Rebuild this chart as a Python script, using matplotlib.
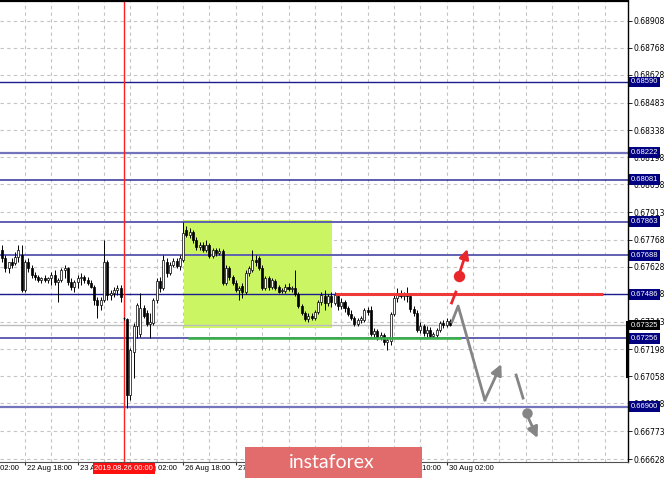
import numpy as np
import matplotlib
matplotlib.use("Agg")
import matplotlib.pyplot as plt
import matplotlib.transforms as mtransforms
from matplotlib.patches import Rectangle

# H1 bars, bar 0 = 22 Aug 18:00 (weekend hours skipped)
bar_idx = np.arange(-7, 130)

opens = [
    0.67716, 0.67674, 0.67622, 0.67653, 0.67648, 0.67679, 0.67690, 0.67507, 0.67653, 0.67622,
    0.67586, 0.67575, 0.67560, 0.67570, 0.67560, 0.67570, 0.67586, 0.67549, 0.67560, 0.67612,
    0.67622, 0.67549, 0.67523, 0.67549, 0.67570, 0.67575, 0.67560, 0.67544, 0.67523, 0.67455,
    0.67430, 0.67455, 0.67653, 0.67482, 0.67492, 0.67507, 0.67518, 0.67362, 0.67357, 0.66961,
    0.67185, 0.67320, 0.67279, 0.67414, 0.67388, 0.67331, 0.67336, 0.67455, 0.67554, 0.67518,
    0.67653, 0.67596, 0.67638, 0.67659, 0.67633, 0.67664, 0.67820, 0.67794, 0.67810, 0.67768,
    0.67731, 0.67742, 0.67716, 0.67742, 0.67684, 0.67716, 0.67700, 0.67710, 0.67544, 0.67622,
    0.67575, 0.67544, 0.67507, 0.67528, 0.67497, 0.67596, 0.67612, 0.67664, 0.67674, 0.67622,
    0.67518, 0.67570, 0.67523, 0.67554, 0.67523, 0.67502, 0.67502, 0.67523, 0.67513, 0.67518,
    0.67487, 0.67424, 0.67388, 0.67357, 0.67372, 0.67362, 0.67393, 0.67445, 0.67476, 0.67440,
    0.67476, 0.67440, 0.67476, 0.67424, 0.67445, 0.67414, 0.67383, 0.67362, 0.67331, 0.67351,
    0.67351, 0.67403, 0.67403, 0.67279, 0.67294, 0.67263, 0.67273, 0.67237, 0.67242, 0.67383,
    0.67466, 0.67487, 0.67476, 0.67487, 0.67476, 0.67409, 0.67388, 0.67299, 0.67320, 0.67284,
    0.67299, 0.67268, 0.67273, 0.67299, 0.67336, 0.67325, 0.67346,
]
highs = [
    0.67742, 0.67690, 0.67653, 0.67674, 0.67705, 0.67742, 0.67742, 0.67664, 0.67674, 0.67638,
    0.67601, 0.67586, 0.67575, 0.67586, 0.67575, 0.67601, 0.67612, 0.67570, 0.67622, 0.67638,
    0.67627, 0.67570, 0.67560, 0.67586, 0.67596, 0.67586, 0.67575, 0.67560, 0.67534, 0.67471,
    0.67471, 0.67768, 0.67664, 0.67507, 0.67523, 0.67534, 0.67534, 0.67367, 0.67362, 0.67206,
    0.67336, 0.67440, 0.67492, 0.67430, 0.67403, 0.67388, 0.67466, 0.67570, 0.67575, 0.67690,
    0.67674, 0.67653, 0.67674, 0.67674, 0.67690, 0.67863, 0.67841, 0.67830, 0.67820, 0.67783,
    0.67757, 0.67757, 0.67768, 0.67752, 0.67726, 0.67726, 0.67726, 0.67721, 0.67638, 0.67633,
    0.67586, 0.67560, 0.67528, 0.67544, 0.67612, 0.67633, 0.67716, 0.67690, 0.67684, 0.67638,
    0.67580, 0.67580, 0.67570, 0.67565, 0.67534, 0.67518, 0.67539, 0.67544, 0.67528, 0.67612,
    0.67497, 0.67435, 0.67398, 0.67388, 0.67388, 0.67403, 0.67455, 0.67497, 0.67507, 0.67487,
    0.67497, 0.67497, 0.67487, 0.67466, 0.67455, 0.67424, 0.67403, 0.67372, 0.67362, 0.67372,
    0.67414, 0.67419, 0.67424, 0.67310, 0.67305, 0.67289, 0.67284, 0.67258, 0.67393, 0.67482,
    0.67518, 0.67507, 0.67497, 0.67523, 0.67492, 0.67424, 0.67403, 0.67341, 0.67331, 0.67320,
    0.67315, 0.67289, 0.67310, 0.67346, 0.67351, 0.67362, 0.67357,
]
lows = [
    0.67653, 0.67601, 0.67596, 0.67622, 0.67638, 0.67653, 0.67497, 0.67497, 0.67601, 0.67570,
    0.67560, 0.67549, 0.67544, 0.67549, 0.67544, 0.67534, 0.67534, 0.67445, 0.67549, 0.67570,
    0.67534, 0.67507, 0.67497, 0.67518, 0.67534, 0.67544, 0.67534, 0.67518, 0.67430, 0.67362,
    0.67403, 0.67445, 0.67455, 0.67455, 0.67471, 0.67482, 0.67445, 0.67351, 0.66893, 0.66935,
    0.67049, 0.67258, 0.67263, 0.67362, 0.67320, 0.67258, 0.67325, 0.67440, 0.67497, 0.67507,
    0.67575, 0.67586, 0.67627, 0.67622, 0.67612, 0.67653, 0.67784, 0.67778, 0.67752, 0.67716,
    0.67716, 0.67705, 0.67705, 0.67674, 0.67674, 0.67684, 0.67690, 0.67534, 0.67534, 0.67560,
    0.67534, 0.67497, 0.67455, 0.67466, 0.67487, 0.67580, 0.67601, 0.67633, 0.67612, 0.67507,
    0.67507, 0.67507, 0.67513, 0.67507, 0.67492, 0.67492, 0.67492, 0.67502, 0.67497, 0.67476,
    0.67414, 0.67377, 0.67346, 0.67341, 0.67351, 0.67351, 0.67383, 0.67430, 0.67403, 0.67424,
    0.67419, 0.67430, 0.67403, 0.67409, 0.67393, 0.67372, 0.67351, 0.67320, 0.67320, 0.67336,
    0.67341, 0.67377, 0.67268, 0.67258, 0.67247, 0.67247, 0.67221, 0.67195, 0.67221, 0.67372,
    0.67445, 0.67466, 0.67455, 0.67445, 0.67393, 0.67372, 0.67289, 0.67284, 0.67268, 0.67263,
    0.67258, 0.67258, 0.67258, 0.67289, 0.67310, 0.67315, 0.67320,
]
closes = [
    0.67674, 0.67622, 0.67653, 0.67638, 0.67679, 0.67716, 0.67507, 0.67653, 0.67622, 0.67586,
    0.67575, 0.67560, 0.67570, 0.67560, 0.67570, 0.67586, 0.67549, 0.67560, 0.67612, 0.67622,
    0.67549, 0.67523, 0.67549, 0.67570, 0.67575, 0.67560, 0.67544, 0.67523, 0.67455, 0.67430,
    0.67455, 0.67653, 0.67482, 0.67492, 0.67507, 0.67518, 0.67471, 0.67362, 0.66961, 0.67195,
    0.67320, 0.67430, 0.67414, 0.67372, 0.67331, 0.67341, 0.67455, 0.67554, 0.67518, 0.67664,
    0.67596, 0.67638, 0.67659, 0.67633, 0.67674, 0.67804, 0.67794, 0.67810, 0.67768, 0.67731,
    0.67742, 0.67716, 0.67742, 0.67684, 0.67716, 0.67700, 0.67710, 0.67544, 0.67622, 0.67575,
    0.67544, 0.67507, 0.67518, 0.67497, 0.67596, 0.67622, 0.67664, 0.67653, 0.67622, 0.67518,
    0.67570, 0.67523, 0.67560, 0.67518, 0.67497, 0.67507, 0.67523, 0.67513, 0.67518, 0.67487,
    0.67424, 0.67388, 0.67357, 0.67372, 0.67362, 0.67393, 0.67445, 0.67482, 0.67440, 0.67476,
    0.67445, 0.67482, 0.67424, 0.67445, 0.67414, 0.67383, 0.67362, 0.67331, 0.67351, 0.67362,
    0.67403, 0.67393, 0.67279, 0.67294, 0.67263, 0.67273, 0.67237, 0.67247, 0.67383, 0.67466,
    0.67492, 0.67476, 0.67487, 0.67476, 0.67409, 0.67388, 0.67299, 0.67320, 0.67284, 0.67299,
    0.67268, 0.67279, 0.67299, 0.67336, 0.67325, 0.67346, 0.67325,
]

# levels drawn by the analyst
level_prices = [0.68590, 0.68222, 0.68081, 0.67863, 0.67688, 0.67486, 0.67256, 0.66900]
level_colors = ["#1c1c8c", "#7474bc", "#30309a", "#6060b0", "#6060b0", "#1c1c8c", "#6060b0", "#7474bc"]
level_widths = [1.0, 1.6, 1.1, 1.4, 1.4, 1.0, 1.4, 1.6]
current_price = 0.67325

price_ticks = [0.68908, 0.68768, 0.68628, 0.68483, 0.68338, 0.68198, 0.68058, 0.67913, 0.67768,
               0.67628, 0.67488, 0.67343, 0.67198, 0.67058, 0.66918, 0.66773, 0.66628]
date_ticks = [-16, 0, 16, 32, 48, 64, 80, 96, 112, 128]
date_labels = ["22 Aug 02:00", "22 Aug 18:00", "23 Aug 10:00", "26 Aug 02:00", "26 Aug 18:00",
               "27 Aug 10:00", "28 Aug 02:00", "28 Aug 18:00", "29 Aug 10:00", "30 Aug 02:00"]
marker_bar = 30
marker_label = "2019.08.26 00:00"

box_bars = [48.4, 93.05]
box_prices = [0.67310, 0.67872]
resist_price, resist_bars = 0.67486, [94.1, 175.5]
support_price, support_bars = 0.67256, [49.5, 132.4]

# forecast sketches
red_dash_x, red_dash_y = [129.5, 130.8], [0.67440, 0.67497]
red_dot = (131.8, 0.67580)
red_arrow = [(132.0, 0.67600), (134.3, 0.67721)]
gray_path_x = [129.6, 131.5, 139.6]
gray_path_y = [0.67341, 0.67424, 0.66935]
gray_arrow1 = [(139.6, 0.66935), (144.6, 0.67122)]
gray_dash_x, gray_dash_y = [149.1, 151.2], [0.67065, 0.66945]
gray_dot = (152.4, 0.66867)
gray_arrow2 = [(152.6, 0.66850), (155.6, 0.66737)]

W, H = 665, 478
fig = plt.figure(figsize=(W / 100, H / 100), dpi=100)
ax = fig.add_axes([0, 16.5 / H, 628 / W, 461 / H])
ax.set_xlim(-7.59, 183.06)
ax.set_ylim(0.66615, 0.69014)
plt.rcParams["font.family"] = ["Liberation Sans", "DejaVu Sans"]
fs = 5.5

# grid
for gx in np.arange(-8, 184, 8):
    ax.axvline(gx, color="#c4c4c4", lw=0.8, ls=(0, (3, 3)), zorder=0.5)
for gy in price_ticks:
    ax.axhline(gy, color="#c4c4c4", lw=0.8, ls=(0, (3, 3)), zorder=0.5)

ax.add_patch(Rectangle((box_bars[0], box_prices[0]), box_bars[1] - box_bars[0],
                       box_prices[1] - box_prices[0], fc="#ccf564", ec="none", zorder=1))

ax.axhline(current_price, color="#bdbdbd", lw=1.0, zorder=1.5)
for p, c, w in zip(level_prices, level_colors, level_widths):
    ax.axhline(p, color=c, lw=w, zorder=2)
ax.axvline(marker_bar, color="#ff2020", lw=1.0, zorder=2)

# candles
o = np.array(opens); h = np.array(highs); l = np.array(lows); c = np.array(closes)
ax.vlines(bar_idx, l, h, color="black", lw=0.7, zorder=3)
up = c >= o
body_col = np.where(up, "white", "black")
ax.bar(bar_idx, np.abs(c - o) + 0.000005, bottom=np.minimum(o, c), width=0.62,
       color=body_col, edgecolor="black", linewidth=0.5, zorder=4)

ax.plot(resist_bars, [resist_price] * 2, color="#f03a3a", lw=2.2, zorder=5, solid_capstyle="butt")
ax.plot(support_bars, [support_price] * 2, color="#3cb04a", lw=1.9, zorder=5, solid_capstyle="butt")

# forecasts
red = "#e8262c"
gray = "#858585"
ax.plot(red_dash_x, red_dash_y, color=red, lw=2.0, zorder=6)
ax.plot(*red_dot, "o", color=red, ms=7.2, zorder=6)
ax.annotate("", xy=red_arrow[1], xytext=red_arrow[0], zorder=6,
            arrowprops=dict(arrowstyle="-|>", color=red, lw=2.0, mutation_scale=14,
                            shrinkA=0, shrinkB=0))
ax.plot(gray_path_x, gray_path_y, color=gray, lw=2.0, zorder=6)
ax.annotate("", xy=gray_arrow1[1], xytext=gray_arrow1[0], zorder=6,
            arrowprops=dict(arrowstyle="-|>", color=gray, lw=2.0, mutation_scale=16,
                            shrinkA=0, shrinkB=0))
ax.plot(gray_dash_x, gray_dash_y, color=gray, lw=2.0, zorder=6)
ax.plot(*gray_dot, "o", color=gray, ms=6.5, zorder=6)
ax.annotate("", xy=gray_arrow2[1], xytext=gray_arrow2[0], zorder=6,
            arrowprops=dict(arrowstyle="-|>", color=gray, lw=2.0, mutation_scale=16,
                            shrinkA=0, shrinkB=0))

# axes frame
ax.spines["left"].set_visible(False)
ax.spines["top"].set_linewidth(1.6)
ax.spines["right"].set_linewidth(1.0)
ax.spines["bottom"].set_linewidth(0.8)
ax.spines["bottom"].set_color("#505050")

ax.yaxis.tick_right()
ax.set_yticks(price_ticks)
ax.set_yticklabels([f"{t:.5f}" for t in price_ticks])
ax.tick_params(axis="y", length=3, width=0.6, pad=1.0, labelsize=fs)
ax.set_xticks(date_ticks[1:])
ax.set_xticklabels([])
ax.tick_params(axis="x", length=2.5, width=0.8, color="#303030")

trans_x = mtransforms.blended_transform_factory(ax.transData, ax.transAxes)
for t, lab in zip(date_ticks, date_labels):
    ax.text(t + 0.6, -0.0152, lab, transform=trans_x, ha="left", va="center",
            fontsize=fs, clip_on=False, zorder=5)
ax.text(marker_bar, -0.0152, marker_label, transform=trans_x, ha="center", va="center",
        fontsize=fs, color="white", clip_on=False, zorder=6,
        bbox=dict(boxstyle="square,pad=0.25", fc="#ff1010", ec="none"))

trans_y = mtransforms.blended_transform_factory(ax.transAxes, ax.transData)
ax.plot([0.9985, 0.9985], [0.67343, 0.67058], transform=trans_y, color="black", lw=2.2,
        clip_on=False, zorder=7)
for p in level_prices:
    ax.text(1.0 + 3 / 628, p, f"{p:.5f}", transform=trans_y, ha="left", va="center",
            fontsize=fs, color="white", clip_on=False, zorder=8,
            bbox=dict(boxstyle="square,pad=0.25", fc="#000080", ec="none"))
ax.text(1.0 + 3 / 628, current_price, f"{current_price:.5f}", transform=trans_y, ha="left",
        va="center", fontsize=fs, color="white", clip_on=False, zorder=8,
        bbox=dict(boxstyle="square,pad=0.25", fc="black", ec="none"))

# logo
fig.add_artist(Rectangle((245 / W, 0), 176.7 / W, 31.3 / H, transform=fig.transFigure,
                         fc="#e26b6b", ec="none", zorder=10))
fig.text(331.7 / W, 16.0 / H, "instaforex", ha="center", va="center", color="white",
         fontsize=14, family="Lato", fontweight="normal", zorder=11)

fig.savefig("out.png", dpi=100)
